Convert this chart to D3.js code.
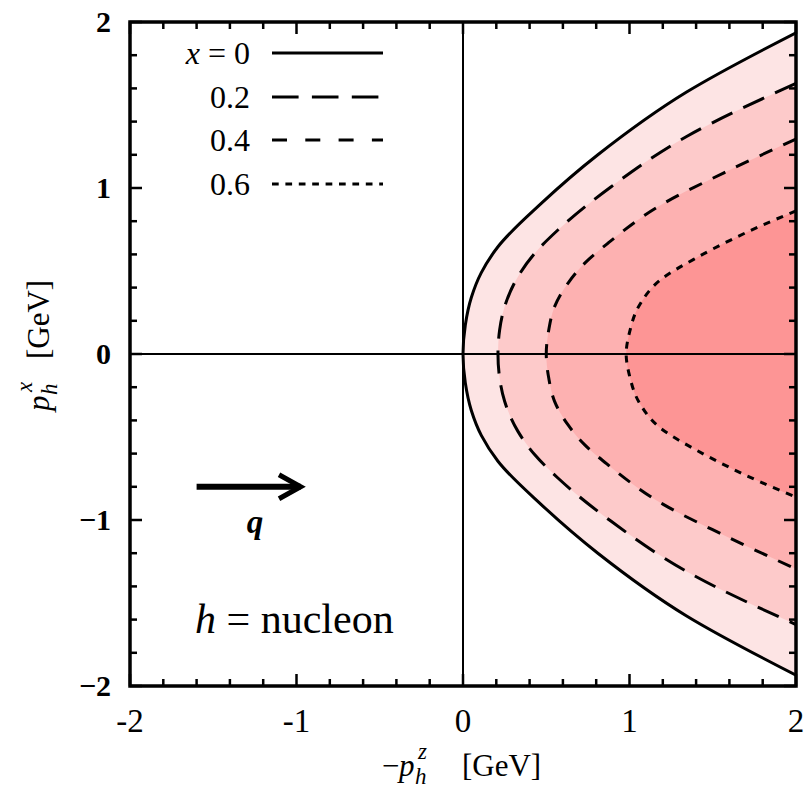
<!DOCTYPE html>
<html><head><meta charset="utf-8">
<script src="https://cdn.jsdelivr.net/npm/d3@7"></script>
<style>body{margin:0;background:#fff}svg{display:block;font-family:"Liberation Serif","Times New Roman",serif}</style>
</head><body><svg id="c" width="807" height="794"></svg>
<script>
// ---- data (upper half, the lower half is its mirror) ----
const seriesLabels = ["0", "0.2", "0.4", "0.6"];
const z_x0  = [0, 0.014, 0.05, 0.11, 0.21, 0.47, 0.81, 1.343, 2.0];
const px_x0 = [0, 0.175, 0.34, 0.49, 0.646, 0.907, 1.2, 1.578, 1.935];
const z_x02  = [0.21, 0.22, 0.25, 0.33, 0.43, 0.57, 0.89, 1.343, 2.0];
const px_x02 = [0, 0.145, 0.285, 0.466, 0.606, 0.747, 1.008, 1.31, 1.63];
const z_x04  = [0.5, 0.515, 0.55, 0.63, 0.73, 0.87, 1.203, 1.564, 2.0];
const px_x04 = [0, 0.145, 0.285, 0.426, 0.546, 0.667, 0.906, 1.09, 1.295];
const z_x06  = [0.98, 1.0, 1.063, 1.183, 1.403, 1.604, 1.784, 2.0];
const px_x06 = [0, 0.13, 0.3, 0.444, 0.58, 0.685, 0.77, 0.862];
const xTicks = [-2, -1, 0, 1, 2];
const yTicks = [-2, -1, 0, 1, 2];
const xTickLabels = ["-2", "-1", "0", "1", "2"];
const yTickLabels = ["\u22122", "\u22121", "0", "1", "2"];

// ---- layout ----
const svg = d3.select("#c");
const L = 130, T = 22, R = 796, B = 686;
const x = d3.scaleLinear().domain([-2, 2]).range([L, R]);
const y = d3.scaleLinear().domain([-2, 2]).range([B, T]);

const fills = ["#fde4e4", "#fdcaca", "#fdb1b1", "#fd9595"];
const dashes = [null, "23,12", "14,12", "7,7"];
const legDashes = [null, "26.6,13.3", "15,18.3", "6.7,6.7"];
const curves = [[z_x0, px_x0], [z_x02, px_x02], [z_x04, px_x04], [z_x06, px_x06]];

svg.append("clipPath").attr("id", "clip").append("rect")
  .attr("x", L).attr("y", T).attr("width", R - L).attr("height", B - T);
const g = svg.append("g").attr("clip-path", "url(#clip)");

function pts(c) {
  const [zs, ps] = c;
  const up = zs.map((z, i) => [z, ps[i]]).reverse();
  const lo = zs.map((z, i) => [z, -ps[i]]).slice(1);
  return up.concat(lo);
}
const line = d3.line().x(d => x(d[0])).y(d => y(d[1])).curve(d3.curveMonotoneY);

curves.forEach((c, i) => {
  const p = pts(c);
  const d = line(p);
  g.append("path").attr("d", d + "L" + x(2.3) + "," + y(-p[0][1]) + "L" + x(2.3) + "," + y(p[0][1]) + "Z")
    .attr("fill", fills[i]).attr("stroke", "none");
});
// zero lines
g.append("line").attr("x1", x(-2)).attr("x2", x(2)).attr("y1", y(0)).attr("y2", y(0))
  .attr("stroke", "#000").attr("stroke-width", 2);
g.append("line").attr("x1", x(0)).attr("x2", x(0)).attr("y1", y(-2)).attr("y2", y(2))
  .attr("stroke", "#000").attr("stroke-width", 2);
curves.forEach((c, i) => {
  g.append("path").attr("d", line(pts(c))).attr("fill", "none").attr("stroke", "#000")
    .attr("stroke-width", 3).attr("stroke-dasharray", dashes[i]);
});

// ticks (inward, all four sides)
const minor = d3.range(-2, 2.001, 0.2).map(v => +v.toFixed(1));
const tk = svg.append("g").attr("stroke", "#000").attr("stroke-width", 2.5);
minor.forEach(v => {
  const major = Math.abs(v - Math.round(v)) < 1e-6;
  const len = major ? 12 : 7;
  tk.append("line").attr("x1", x(v)).attr("x2", x(v)).attr("y1", B).attr("y2", B - len);
  tk.append("line").attr("x1", x(v)).attr("x2", x(v)).attr("y1", T).attr("y2", T + len);
  tk.append("line").attr("y1", y(v)).attr("y2", y(v)).attr("x1", L).attr("x2", L + len);
  tk.append("line").attr("y1", y(v)).attr("y2", y(v)).attr("x1", R).attr("x2", R - len);
});
svg.append("rect").attr("x", L).attr("y", T).attr("width", R - L).attr("height", B - T)
  .attr("fill", "none").attr("stroke", "#000").attr("stroke-width", 3.5);

// tick labels
xTicks.forEach((v, i) => {
  svg.append("text").attr("x", x(v)).attr("y", 732).attr("text-anchor", "middle")
    .attr("font-size", 33).text(xTickLabels[i]);
});
yTicks.forEach((v, i) => {
  svg.append("text").attr("x", 111).attr("y", y(v) + 10).attr("text-anchor", "end")
    .attr("font-size", 30).attr("font-weight", "bold").text(yTickLabels[i]);
});

// axis titles
const xt = svg.append("g").attr("transform", "translate(382,776)");
xt.append("text").attr("font-size", 31).text("\u2212");
xt.append("text").attr("x", 17).attr("font-size", 31).attr("font-style", "italic").text("p");
xt.append("text").attr("x", 33).attr("y", 8).attr("font-size", 23).attr("font-style", "italic").text("h");
xt.append("text").attr("x", 36).attr("y", -17).attr("font-size", 23).attr("font-style", "italic").text("z");
xt.append("text").attr("x", 80).attr("font-size", 31).text("[GeV]");

const yt = svg.append("g").attr("transform", "translate(49,411) rotate(-90)");
yt.append("text").attr("x", 0).attr("font-size", 31).attr("font-style", "italic").text("p");
yt.append("text").attr("x", 16).attr("y", 8).attr("font-size", 23).attr("font-style", "italic").text("h");
yt.append("text").attr("x", 19).attr("y", -17).attr("font-size", 23).attr("font-style", "italic").text("x");
yt.append("text").attr("x", 52).attr("font-size", 31).text("[GeV]");

// legend
const legY = [53, 97, 140, 184];
seriesLabels.forEach((s, i) => {
  const t = svg.append("text").attr("x", 250).attr("y", legY[i] + 11).attr("text-anchor", "end").attr("font-size", 32);
  if (i === 0) {
    t.append("tspan").attr("font-style", "italic").text("x");
    t.append("tspan").text(" = " + s);
  } else t.text(s);
  svg.append("line").attr("x1", 272).attr("x2", 383).attr("y1", legY[i]).attr("y2", legY[i])
    .attr("stroke", "#000").attr("stroke-width", 3).attr("stroke-dasharray", legDashes[i]);
});

// arrow q
const ay = y(-0.8);
svg.append("line").attr("x1", x(-1.6)).attr("x2", x(-0.975)).attr("y1", ay).attr("y2", ay)
  .attr("stroke", "#000").attr("stroke-width", 6);
svg.append("path").attr("d", `M${x(-1.105)},${ay - 12}L${x(-0.975)},${ay}L${x(-1.105)},${ay + 12}`)
  .attr("fill", "none").attr("stroke", "#000").attr("stroke-width", 5);
svg.append("text").attr("x", 255).attr("y", 533).attr("text-anchor", "middle")
  .attr("font-size", 33).attr("font-style", "italic").attr("font-weight", "bold").text("q");

const ht = svg.append("text").attr("x", 195).attr("y", 633).attr("font-size", 42);
ht.append("tspan").attr("font-style", "italic").text("h");
ht.append("tspan").text(" = nucleon");
</script></body></html>
